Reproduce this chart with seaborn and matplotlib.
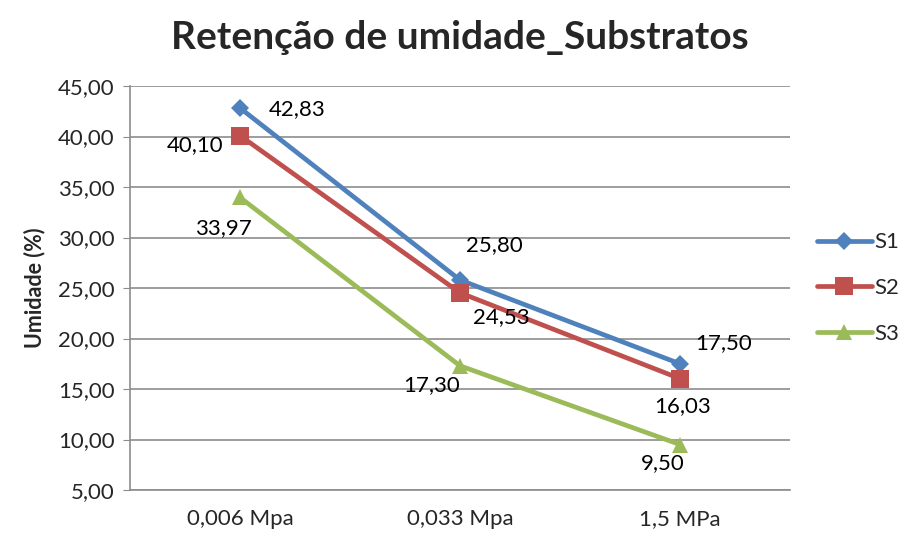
import matplotlib
matplotlib.use("Agg")
import matplotlib.pyplot as plt
from matplotlib.ticker import FuncFormatter, MultipleLocator
import pandas as pd
import seaborn as sns

# data
pressures = ["0,006 Mpa", "0,033 Mpa", "1,5 MPa"]
s1 = [42.83, 25.80, 17.50]
s2 = [40.10, 24.53, 16.03]
s3 = [33.97, 17.30, 9.50]
series_names = ["S1", "S2", "S3"]

colors = {"S1": "#4F81BD", "S2": "#C0504D", "S3": "#9BBB59"}
markers = {"S1": "D", "S2": "s", "S3": "^"}
msizes = {"S1": 9, "S2": 13, "S3": 12}
# label offsets in pixels (dx, dy) from each point
offsets = {
    "S1": [(57, -1), (34, 35), (44, 21)],
    "S2": [(-45, -10), (41, -24), (3, -27)],
    "S3": [(-17, -31), (-28, -19), (-17, -19)],
}

rows = []
for name, vals in zip(series_names, [s1, s2, s3]):
    for p, v in zip(pressures, vals):
        rows.append({"Pressao": p, "Umidade": v, "Serie": name})
df = pd.DataFrame(rows)

sns.set_style("white")
plt.rcParams["font.family"] = ["Lato", "DejaVu Sans"]

fig = plt.figure(figsize=(9.07, 5.38), dpi=100)
ax = fig.add_axes([0.1433, 0.0892, 0.7277, 0.7508])

for name in series_names:
    sub = df[df["Serie"] == name]
    sns.lineplot(data=sub, x="Pressao", y="Umidade", ax=ax, color=colors[name],
                 marker=markers[name], markersize=msizes[name], markeredgewidth=0,
                 linewidth=3.4, label=name, sort=False)
    for i, (p, v) in enumerate(zip(sub["Pressao"], sub["Umidade"])):
        dx, dy = offsets[name][i]
        ax.annotate(f"{v:.2f}".replace(".", ","), (i, v), xytext=(dx, dy),
                    textcoords="offset pixels", ha="center", va="center",
                    fontsize=16, color="black")

ax.set_xlim(-0.5, 2.5)
ax.set_ylim(5, 45)
ax.yaxis.set_major_locator(MultipleLocator(5))
ax.yaxis.set_major_formatter(FuncFormatter(lambda v, _: f"{v:.2f}".replace(".", ",")))
ax.grid(axis="y", color="#8c8c8c", linewidth=1.2)
ax.set_axisbelow(True)
for side in ["top", "right"]:
    ax.spines[side].set_visible(False)
for side in ["left", "bottom"]:
    ax.spines[side].set_color("#8c8c8c")
    ax.spines[side].set_linewidth(1.2)
ax.tick_params(axis="y", which="major", left=True, length=5, color="#8c8c8c",
               labelsize=16, pad=6)
ax.tick_params(axis="x", bottom=False, labelsize=16, pad=10)
ax.set_xlabel("")
ax.set_ylabel("Umidade (%)", fontsize=15.5, fontweight="bold", labelpad=9)
ax.set_title("Retenção de umidade_Substratos", fontsize=28, fontweight="bold", pad=27)

ax.legend(loc="center left", bbox_to_anchor=(1.0, 0.5), frameon=False,
          fontsize=16, handlelength=2.5, labelspacing=1.15, handletextpad=0.1,
          borderaxespad=0.8)

fig.savefig("out.png", dpi=100)
